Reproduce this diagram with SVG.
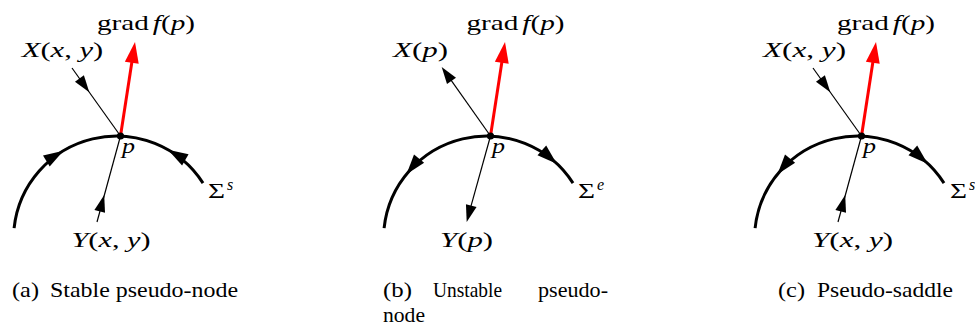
<svg xmlns="http://www.w3.org/2000/svg" xmlns:xlink="http://www.w3.org/1999/xlink" width="975" height="329" viewBox="0 0 975 329">
<style>
.arc{fill:none;stroke:#000;stroke-width:3}
.thin{fill:none;stroke:#000;stroke-width:1.2}
.red{fill:none;stroke:#f00;stroke-width:3}
</style>
<defs>
<path id="hd" d="M0,0 L-17,-5.5 L-17,5.5 Z" fill="#000"/>
<path id="hdArc" d="M0,0 L-20,-6.5 L-20,6.5 Z" fill="#000"/>
<path id="hdRed" d="M0,0 L-21,-7 L-21,7 Z" fill="#f00"/>
<path id="arcPath" d="M-106.4,92.1 A103,103 0 0 1 82.5,47.1"/>
</defs>

<g id="panel-a" transform="translate(120.5,136)">
<use xlink:href="#arcPath" class="arc"/>
<g id="connectors-a">
<use xlink:href="#hdArc" transform="translate(-57,14.7) rotate(-31)"/>
<use xlink:href="#hdArc" transform="translate(47.5,13.8) rotate(-150)"/>
<line class="thin" x1="-48.5" y1="-68" x2="0" y2="0"/>
<use xlink:href="#hd" transform="translate(-31.2,-43.7) rotate(54.5)"/>
<line class="thin" x1="-23.5" y1="86" x2="0" y2="0"/>
<use xlink:href="#hd" transform="translate(-16.3,59) rotate(-74.7)"/>
<line class="red" x1="0" y1="0" x2="12.2" y2="-79.2"/>
<use xlink:href="#hdRed" transform="translate(14.5,-94) rotate(-81.2)"/>
</g>
<circle cx="0" cy="0" r="3.6" fill="#000"/>
<g font-family="Liberation Serif, DejaVu Serif, serif" font-size="22" fill="#000">
<text x="-23.5" y="-106" textLength="98" lengthAdjust="spacingAndGlyphs">grad<tspan font-style="italic" dx="3">f</tspan>(<tspan font-style="italic">p</tspan>)</text>
<text x="-98.8" y="-79" textLength="81.5" lengthAdjust="spacingAndGlyphs"><tspan font-style="italic">X</tspan>(<tspan font-style="italic">x</tspan>, <tspan font-style="italic">y</tspan>)</text>
<text x="-49" y="111" textLength="79" lengthAdjust="spacingAndGlyphs"><tspan font-style="italic">Y</tspan>(<tspan font-style="italic">x</tspan>, <tspan font-style="italic">y</tspan>)</text>
<text font-style="italic" x="1.5" y="16.5" textLength="13" lengthAdjust="spacingAndGlyphs">p</text>
<text x="87.5" y="62" textLength="17" lengthAdjust="spacingAndGlyphs">Σ</text>
<text font-size="16" font-style="italic" x="106.5" y="54">s</text>
</g>
</g>

<g id="panel-b" transform="translate(490.5,136)">
<use xlink:href="#arcPath" class="arc"/>
<g id="connectors-b">
<use xlink:href="#hdArc" transform="translate(-84,38.2) rotate(129)"/>
<use xlink:href="#hdArc" transform="translate(66.2,27.7) rotate(42)"/>
<line class="thin" x1="0" y1="0" x2="-43" y2="-60.8"/>
<use xlink:href="#hd" transform="translate(-48.8,-69) rotate(-125.3)"/>
<line class="thin" x1="0" y1="0" x2="-20.7" y2="74.4"/>
<use xlink:href="#hd" transform="translate(-23.8,86) rotate(105.5)"/>
<line class="red" x1="0" y1="0" x2="12.2" y2="-79.2"/>
<use xlink:href="#hdRed" transform="translate(14.5,-94) rotate(-81.2)"/>
</g>
<circle cx="0" cy="0" r="3.6" fill="#000"/>
<g font-family="Liberation Serif, DejaVu Serif, serif" font-size="22" fill="#000">
<text x="-24" y="-106" textLength="98" lengthAdjust="spacingAndGlyphs">grad<tspan font-style="italic" dx="3">f</tspan>(<tspan font-style="italic">p</tspan>)</text>
<text x="-97.5" y="-79" textLength="55" lengthAdjust="spacingAndGlyphs"><tspan font-style="italic">X</tspan>(<tspan font-style="italic">p</tspan>)</text>
<text x="-50.5" y="111" textLength="53" lengthAdjust="spacingAndGlyphs"><tspan font-style="italic">Y</tspan>(<tspan font-style="italic">p</tspan>)</text>
<text font-style="italic" x="1.5" y="16.5" textLength="13" lengthAdjust="spacingAndGlyphs">p</text>
<text x="87.5" y="62" textLength="17" lengthAdjust="spacingAndGlyphs">Σ</text>
<text font-size="16" font-style="italic" x="106.5" y="54">e</text>
</g>
</g>

<g id="panel-c" transform="translate(861.5,136)">
<use xlink:href="#arcPath" class="arc"/>
<g id="connectors-c">
<use xlink:href="#hdArc" transform="translate(-84,38.2) rotate(129)"/>
<use xlink:href="#hdArc" transform="translate(66.2,27.7) rotate(42)"/>
<line class="thin" x1="-48.5" y1="-68" x2="0" y2="0"/>
<use xlink:href="#hd" transform="translate(-31.2,-43.7) rotate(54.5)"/>
<line class="thin" x1="-23.5" y1="86" x2="0" y2="0"/>
<use xlink:href="#hd" transform="translate(-16.3,59) rotate(-74.7)"/>
<line class="red" x1="0" y1="0" x2="12.2" y2="-79.2"/>
<use xlink:href="#hdRed" transform="translate(14.5,-94) rotate(-81.2)"/>
</g>
<circle cx="0" cy="0" r="3.6" fill="#000"/>
<g font-family="Liberation Serif, DejaVu Serif, serif" font-size="22" fill="#000">
<text x="-24.5" y="-106" textLength="98" lengthAdjust="spacingAndGlyphs">grad<tspan font-style="italic" dx="3">f</tspan>(<tspan font-style="italic">p</tspan>)</text>
<text x="-98.5" y="-79" textLength="83" lengthAdjust="spacingAndGlyphs"><tspan font-style="italic">X</tspan>(<tspan font-style="italic">x</tspan>, <tspan font-style="italic">y</tspan>)</text>
<text x="-49.5" y="111" textLength="81" lengthAdjust="spacingAndGlyphs"><tspan font-style="italic">Y</tspan>(<tspan font-style="italic">x</tspan>, <tspan font-style="italic">y</tspan>)</text>
<text font-style="italic" x="1.5" y="16.5" textLength="13" lengthAdjust="spacingAndGlyphs">p</text>
<text x="88.5" y="62" textLength="17" lengthAdjust="spacingAndGlyphs">Σ</text>
<text font-size="16" font-style="italic" x="107.5" y="54">s</text>
</g>
</g>

<g id="captions" font-family="Liberation Serif, DejaVu Serif, serif" font-size="22" fill="#000">
<text x="12" y="297" textLength="27" lengthAdjust="spacingAndGlyphs">(a)</text>
<text x="50" y="297" textLength="188" lengthAdjust="spacingAndGlyphs">Stable pseudo-node</text>
<text x="383" y="297" textLength="29" lengthAdjust="spacingAndGlyphs">(b)</text>
<text x="433" y="297" textLength="69" lengthAdjust="spacingAndGlyphs">Unstable</text>
<text x="538" y="297" textLength="70" lengthAdjust="spacingAndGlyphs">pseudo-</text>
<text x="383" y="322" textLength="42" lengthAdjust="spacingAndGlyphs">node</text>
<text x="778" y="297" textLength="27" lengthAdjust="spacingAndGlyphs">(c)</text>
<text x="817" y="297" textLength="136" lengthAdjust="spacingAndGlyphs">Pseudo-saddle</text>
</g>
</svg>
